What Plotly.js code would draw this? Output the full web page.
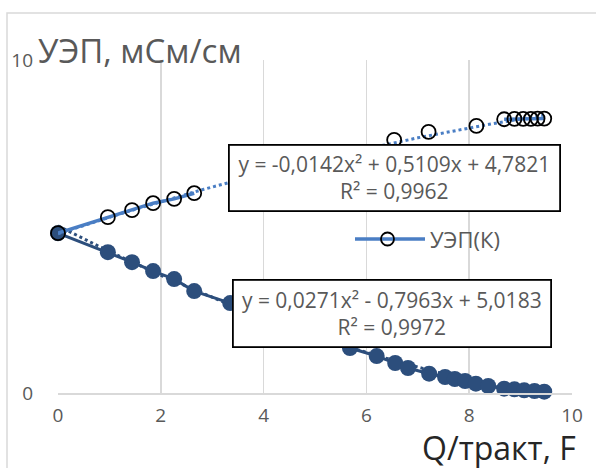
<!DOCTYPE html>
<html>
<head>
<meta charset="utf-8">
<script src="https://cdn.plot.ly/plotly-3.0.1.min.js"></script>
<style>html,body{margin:0;padding:0;background:#fff;}#chart{width:596px;height:468px;}</style>
</head>
<body>
<div id="chart"></div>
<script>
// ---- data ----
const upperX = [0, 0.97, 1.44, 1.85, 2.26, 2.65, 6.54, 7.21, 8.14, 8.68, 8.88, 9.05, 9.2, 9.33, 9.46];
const upperY = [4.8, 5.28, 5.49, 5.7, 5.83, 6.0, 7.6, 7.84, 8.02, 8.22, 8.23, 8.23, 8.23, 8.24, 8.24];
const upperGapAfter = [5, 6, 7, 8]; // indices after which the series line is broken
const lowerX = [0, 0.97, 1.44, 1.85, 2.26, 2.65, 3.35, 5.68, 6.2, 6.56, 6.81, 7.22, 7.53, 7.72, 7.92, 8.13, 8.37, 8.68, 8.88, 9.07, 9.27, 9.46];
const lowerY = [4.8, 4.23, 3.93, 3.66, 3.42, 3.06, 2.7, 1.35, 1.11, 0.9, 0.75, 0.58, 0.48, 0.42, 0.36, 0.28, 0.21, 0.13, 0.11, 0.08, 0.06, 0.04];
const upperCoef = [-0.0142, 0.5109, 4.7821];
const lowerCoef = [0.0271, -0.7963, 5.0183];
const upperEq = ["y = -0,0142x² + 0,5109x + 4,7821", "R² = 0,9962"];
const lowerEq = ["y = 0,0271x² - 0,7963x + 5,0183", "R² = 0,9972"];
const seriesName = "УЭП(К)";
const yTitle = "УЭП, мСм/см";
const xTitle = "Q/тракт, F";
const xTicks = [0, 2, 4, 6, 8, 10];
const yTicks = [0, 10];

// ---- helpers ----
const W = 596, H = 468, L = 58, R = 572, T = 60, B = 393;
const px = p => (p - L) / (R - L);
const py = p => (B - p) / (B - T);
function trend(c, x0, x1, n) {
  const xs = [], ys = [];
  for (let i = 0; i <= n; i++) { const x = x0 + (x1 - x0) * i / n; xs.push(x); ys.push(c[0]*x*x + c[1]*x + c[2]); }
  return {xs, ys};
}
const lineX = [], lineY = [];
upperX.forEach((x, i) => { lineX.push(x); lineY.push(upperY[i]); if (upperGapAfter.includes(i)) { lineX.push(null); lineY.push(null); } });

const light = '#4A7EC4', dark = '#2C4E7C', grey = '#595959';
const tu = trend(upperCoef, 0, 9.46, 100);
const tl = trend(lowerCoef, 0, 9.46, 100);
const font = 'Open Sans, sans-serif';

const traces = [
  {x: tl.xs, y: tl.ys, mode: 'lines', line: {color: dark, width: 3, dash: 'dot'}, showlegend: false, hoverinfo: 'skip'},
  {x: lowerX, y: lowerY, mode: 'lines+markers', line: {color: dark, width: 3}, marker: {color: dark, size: 16}, showlegend: false, cliponaxis: false},
  {x: tu.xs, y: tu.ys, mode: 'lines', line: {color: light, width: 3, dash: 'dot'}, showlegend: false, hoverinfo: 'skip'},
  {x: lineX, y: lineY, mode: 'lines', line: {color: light, width: 3.5}, connectgaps: false, showlegend: false},
  {x: upperX, y: upperY, mode: 'markers', marker: {symbol: 'circle-open', color: '#000', size: 14, line: {width: 1.8, color: '#000'}}, showlegend: false, cliponaxis: false, name: seriesName},
];

const layout = {
  width: W, height: H, autosize: false,
  margin: {l: L, r: W - R, t: T, b: H - B, pad: 0},
  paper_bgcolor: '#fff', plot_bgcolor: '#fff',
  showlegend: false,
  font: {family: font, color: grey},
  xaxis: {range: [0, 10], tickvals: xTicks, ticktext: xTicks.map(String), showgrid: true, gridcolor: '#d9d9d9', gridwidth: 1.5,
          zeroline: false, showline: true, linecolor: '#d9d9d9', linewidth: 1.5, ticks: '', tickfont: {size: 19, color: grey, family: font}, ticklabelstandoff: 5},
  yaxis: {range: [0, 10], tickvals: yTicks, ticktext: yTicks.map(String), showgrid: true, gridcolor: '#d9d9d9', gridwidth: 1.5,
          zeroline: false, showline: false, ticks: '', tickfont: {size: 19, color: grey, family: font}, ticklabelstandoff: 24},
  shapes: [
    {type: 'rect', xref: 'paper', yref: 'paper', x0: px(7), x1: px(640), y0: py(13), y1: py(520), line: {color: '#d9d9d9', width: 1.5}, layer: 'below'},
    // legend sample
    {type: 'line', xref: 'paper', yref: 'paper', x0: px(355), x1: px(425), y0: py(239), y1: py(239), line: {color: light, width: 3.5}, layer: 'above'},
    {type: 'circle', xref: 'paper', yref: 'paper', x0: px(381), x1: px(394), y0: py(245.5), y1: py(232.5), line: {color: '#000', width: 1.8}, layer: 'above'},
  ],
  annotations: [
    {xref: 'paper', yref: 'paper', x: px(36), y: py(50), xanchor: 'left', yanchor: 'middle', text: yTitle, showarrow: false, font: {size: 33, color: grey, family: font}},
    {xref: 'paper', yref: 'paper', x: px(578), y: py(447), xanchor: 'right', yanchor: 'middle', text: xTitle, showarrow: false, font: {size: 32, color: '#262626', family: font}},
    {xref: 'paper', yref: 'paper', x: px(428), y: py(239), xanchor: 'left', yanchor: 'middle', text: seriesName, showarrow: false, font: {size: 22, color: grey, family: font}},
    {xref: 'paper', yref: 'paper', x: px(228), y: py(144), xanchor: 'left', yanchor: 'top', text: upperEq.join('<br>'), align: 'center', valign: 'middle',
     width: 329, height: 64, borderpad: 0, borderwidth: 1.8, bordercolor: '#000', bgcolor: '#fff', showarrow: false, font: {size: 21, color: grey, family: font}},
    {xref: 'paper', yref: 'paper', x: px(232), y: py(279), xanchor: 'left', yanchor: 'top', text: lowerEq.join('<br>'), align: 'center', valign: 'middle',
     width: 316, height: 65, borderpad: 0, borderwidth: 1.8, bordercolor: '#000', bgcolor: '#fff', showarrow: false, font: {size: 21, color: grey, family: font}},
  ],
};

Plotly.newPlot('chart', traces, layout, {displayModeBar: false, staticPlot: true});
</script>
</body>
</html>
